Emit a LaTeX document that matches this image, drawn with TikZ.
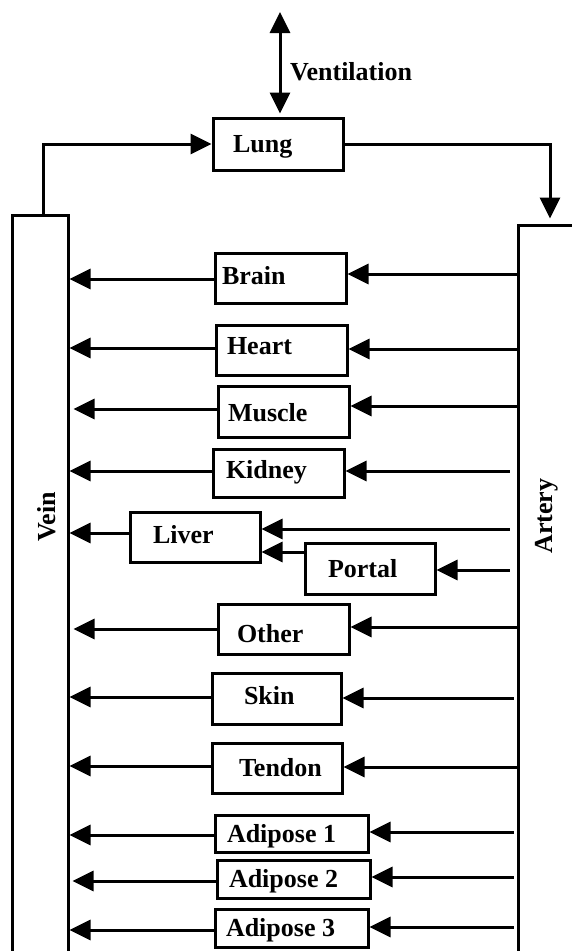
\documentclass[tikz,border=0pt]{standalone}
\usepackage{fontspec}
\setmainfont{Liberation Serif}
\usetikzlibrary{arrows.meta,calc}
\begin{document}
\begin{tikzpicture}[x=1pt,y=-1pt,
  txt/.style={font=\bfseries\fontsize{26}{30}\selectfont, inner sep=0pt, text height=17pt, text depth=0pt},
  organ/.style={txt, draw, line width=3pt, align=left},
  bar/.style={draw, line width=3pt, inner sep=0pt},
  arr/.style={line width=3pt, -{Triangle[length=21pt,width=20pt]}},
  dbl/.style={line width=3pt, {Triangle[length=21pt,width=20pt]}-{Triangle[length=21pt,width=20pt]}}]
\useasboundingbox (0,0) rectangle (572,951);
\clip (0,0) rectangle (572,951);

% bars
\node[bar, minimum width=56pt, minimum height=785pt] (vein) at (40,607.5) {};
\node[bar, minimum width=82pt, minimum height=775pt] (artery) at (559,612.5) {};
\node[txt, rotate=90] (veinlbl) at (47,517) {Vein};
\node[txt, rotate=90] (arterylbl) at (543.5,516) {Artery};

% lung and ventilation
\node[organ, text width=130pt, minimum height=52pt] (lung) at (278,144) {\hspace*{20pt}\mbox{Lung}};
\coordinate (venttop) at (280,12);
\draw[dbl] (venttop) -- ($(lung.north)+(2,-3)$);
\node[txt, anchor=west] (vent) at (290,71.5) {Ventilation};
\draw[arr] ([xshift=3pt]vein.north) |- (lung.west);
\draw[arr] (lung.east) -| ($(artery.north)+(-9,-5)$);

% organs
\node[organ, text width=131pt, minimum height=50pt, text depth=4pt] (brain) at (280.5,278) {\hspace*{7pt}\mbox{Brain}};
\node[organ, text width=131pt, minimum height=50pt, text depth=8pt] (heart) at (281.5,350) {\hspace*{11pt}\mbox{Heart}};
\node[organ, text width=131pt, minimum height=51pt, text height=20pt] (muscle) at (283.5,411.5) {\hspace*{10pt}\mbox{Muscle}};
\node[organ, text width=131pt, minimum height=48pt, text depth=6pt] (kidney) at (278.5,473) {\hspace*{13pt}\mbox{Kidney}};
\node[organ, text width=130pt, minimum height=50pt, text depth=4pt] (liver) at (195,537) {\hspace*{23pt}\mbox{Liver}};
\node[organ, text width=130pt, minimum height=51pt] (portal) at (370,568.5) {\hspace*{23pt}\mbox{Portal}};
\node[organ, text width=131pt, minimum height=50pt, text height=27pt] (other) at (283.5,629) {\hspace*{19pt}\mbox{Other}};
\node[organ, text width=129pt, minimum height=51pt, text depth=5pt] (skin) at (276.5,698.5) {\hspace*{32pt}\mbox{Skin}};
\node[organ, text width=130pt, minimum height=50pt] (tendon) at (277,768) {\hspace*{27pt}\mbox{Tendon}};
\node[organ, text width=153pt, minimum height=37pt] (adiposeA) at (291.5,833.5) {\spaceskip=0pt\relax\hspace*{12pt}\mbox{Adipose 1}};
\node[organ, text width=153pt, minimum height=38pt] (adiposeB) at (293.5,879) {\spaceskip=0pt\relax\hspace*{12pt}\mbox{Adipose 2}};
\node[organ, text width=153pt, minimum height=38pt] (adiposeC) at (291.5,928) {\spaceskip=0pt\relax\hspace*{11pt}\mbox{Adipose 3}};

% artery -> organ
\draw[arr] (artery.west |- 0,274) -- (brain.east |- 0,274);
\draw[arr] (artery.west |- 0,349) -- (heart.east |- 0,349);
\draw[arr] (artery.west |- 0,406) -- (muscle.east |- 0,406);
\draw[arr] ($(artery.west |- 0,471)+(-7,0)$) -- (kidney.east |- 0,471);
\draw[arr] ($(artery.west |- 0,529)+(-7,0)$) -- (liver.east |- 0,529);
\draw[arr] ($(artery.west |- 0,570)+(-7,0)$) -- (portal.east |- 0,570);
\draw[arr] (artery.west |- 0,627) -- (other.east |- 0,627);
\draw[arr] ($(artery.west |- 0,698)+(-3,0)$) -- (skin.east |- 0,698);
\draw[arr] (artery.west |- 0,767) -- (tendon.east |- 0,767);
\draw[arr] ($(artery.west |- 0,832)+(-3,0)$) -- (adiposeA.east |- 0,832);
\draw[arr] ($(artery.west |- 0,877)+(-3,0)$) -- (adiposeB.east |- 0,877);
\draw[arr] ($(artery.west |- 0,927)+(-3,0)$) -- (adiposeC.east |- 0,927);

% portal -> liver
\draw[arr] (portal.west |- 0,552) -- (liver.east |- 0,552);

% organ -> vein
\draw[arr] (brain.west |- 0,279) -- (vein.east |- 0,279);
\draw[arr] (heart.west |- 0,348) -- (vein.east |- 0,348);
\draw[arr] (muscle.west |- 0,409) -- ($(vein.east |- 0,409)+(4,0)$);
\draw[arr] (kidney.west |- 0,471) -- (vein.east |- 0,471);
\draw[arr] (liver.west |- 0,533) -- (vein.east |- 0,533);
\draw[arr] (other.west |- 0,629) -- ($(vein.east |- 0,629)+(4,0)$);
\draw[arr] (skin.west |- 0,697) -- (vein.east |- 0,697);
\draw[arr] (tendon.west |- 0,766) -- (vein.east |- 0,766);
\draw[arr] (adiposeA.west |- 0,835) -- (vein.east |- 0,835);
\draw[arr] (adiposeB.west |- 0,881) -- ($(vein.east |- 0,881)+(3,0)$);
\draw[arr] (adiposeC.west |- 0,930) -- (vein.east |- 0,930);
\end{tikzpicture}
\end{document}
